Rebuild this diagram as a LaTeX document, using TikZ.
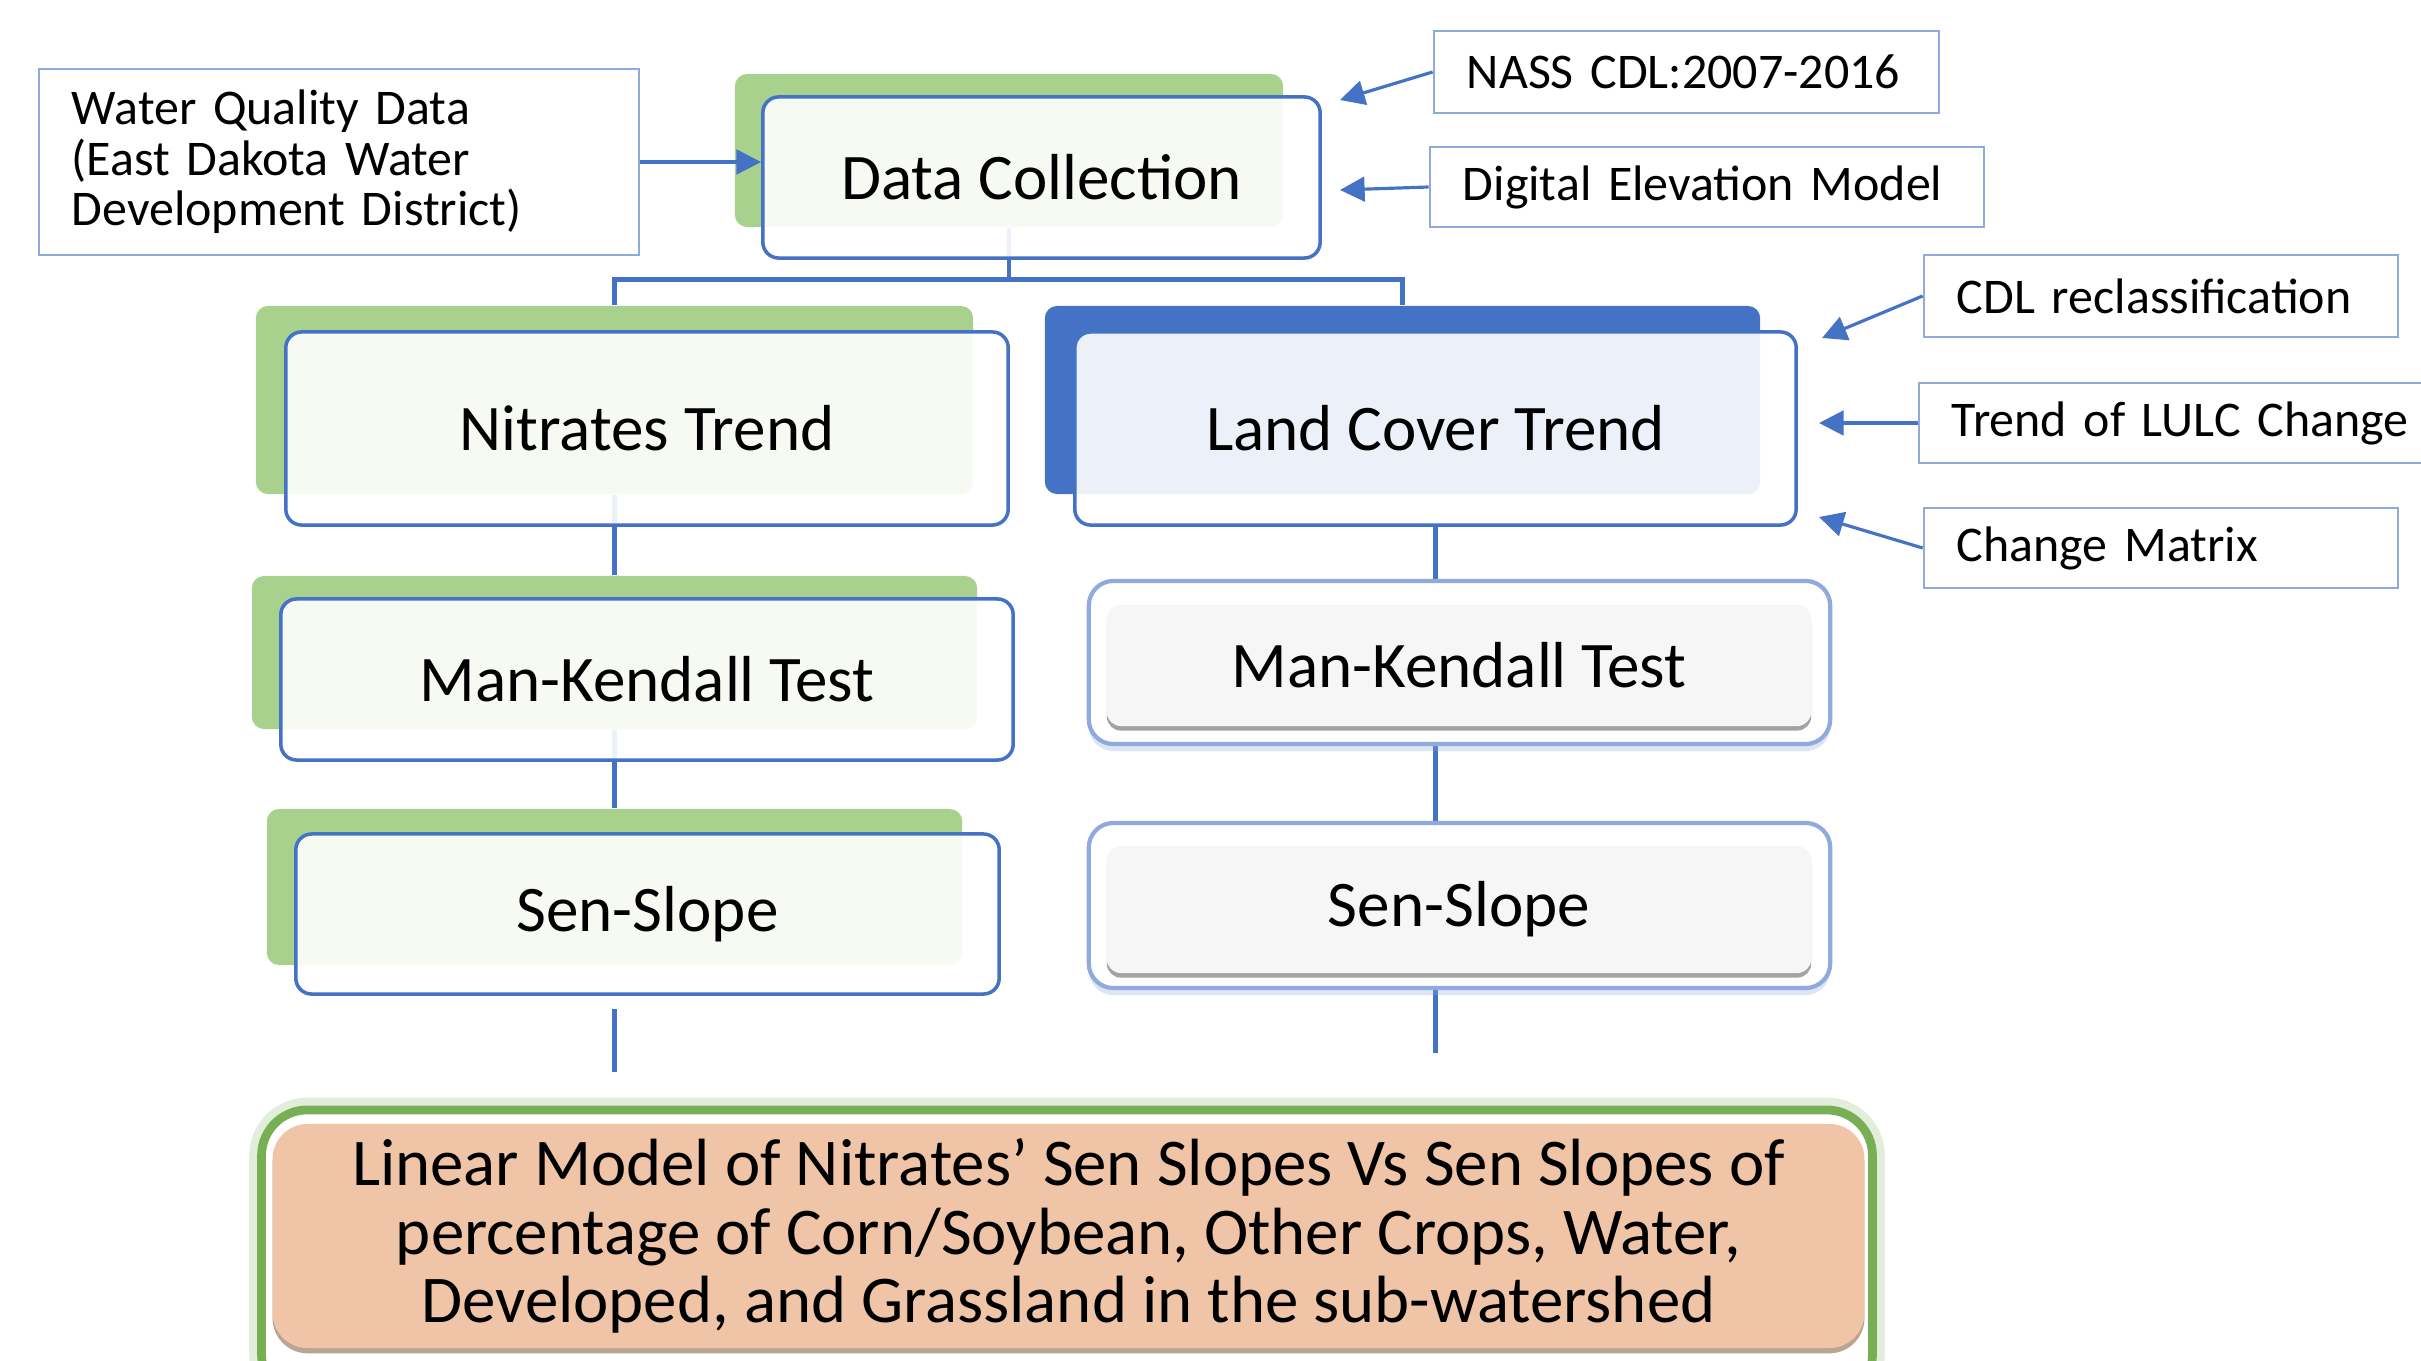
\documentclass[tikz,border=0pt]{standalone}
\usepackage{fontspec}
\setmainfont{Carlito}
\usetikzlibrary{arrows.meta,positioning,calc,shadows,backgrounds}
\definecolor{flowgreen}{RGB}{169,209,142}
\definecolor{flowblue}{RGB}{68,114,196}
\definecolor{flowedge}{RGB}{143,170,220}
\definecolor{flowgrey}{RGB}{246,246,246}
\definecolor{flowpeach}{RGB}{240,196,166}
\definecolor{flowglow}{RGB}{120,175,85}

\begin{document}
\begin{tikzpicture}[x=0.01cm, y=-0.01cm,
    plate/.style={rectangle, rounded corners=3.5pt, inner sep=0pt},
    stepbox/.style={rectangle, draw=flowblue, rounded corners=4.5pt, line width=1pt,
                fill=white, fill opacity=0.9, text opacity=1, inner sep=0pt,
                font=\fontsize{18.5}{22}\selectfont},
    bevelframe/.style={rectangle, draw=flowedge, line width=1.2pt, rounded corners=7pt,
                fill=white, inner sep=0pt,
                drop shadow={shadow xshift=0pt, shadow yshift=-2pt, fill=flowblue!60, opacity=0.3}},
    bevelbox/.style={rectangle, rounded corners=4pt, fill=flowgrey, inner sep=0pt,
                drop shadow={shadow xshift=0pt, shadow yshift=-1.3pt, fill=black!60, opacity=0.6},
                font=\fontsize{18.5}{22}\selectfont},
    sidebox/.style={rectangle, draw=flowedge, line width=0.7pt, inner xsep=0.33cm,
                inner ysep=0pt, align=left, font=\fontsize{14.2}{14.4}\selectfont},
    link/.style={draw=flowblue, line width=1.4pt},
    arr/.style={-{Triangle[length=7pt, width=7pt]}, draw=flowblue, line width=0.9pt},
  ]
  \useasboundingbox (0,0) rectangle (2421,1361);

  % Eingangsdaten links
  \node[sidebox, text width=5.34cm, minimum height=1.86cm] (wq) at (339,162)
    {Water Quality Data\\(East Dakota Water\\Development District)};

  % Data Collection
  \node[plate, fill=flowgreen, minimum width=5.48cm, minimum height=1.53cm] (dcback) at (1009,150.5) {};
  \node[stepbox, minimum width=5.57cm, minimum height=1.61cm] (dc) at (1041.5,177.5) {Data Collection};

  % Nitrates Trend
  \node[plate, fill=flowgreen, minimum width=7.17cm, minimum height=1.88cm] (ntback) at (614.5,400) {};
  \node[stepbox, minimum width=7.22cm, minimum height=1.93cm] (nt) at (647,428.5) {Nitrates Trend};

  % Land Cover Trend
  \node[plate, fill=flowblue, minimum width=7.15cm, minimum height=1.88cm] (lcback) at (1402.5,400) {};
  \node[stepbox, minimum width=7.21cm, minimum height=1.93cm] (lc) at (1435.5,428.5) {Land Cover Trend};

  % Man-Kendall links
  \node[plate, fill=flowgreen, minimum width=7.25cm, minimum height=1.53cm] (mkback) at (614.5,652.5) {};
  \node[stepbox, minimum width=7.32cm, minimum height=1.61cm] (mk) at (647,679.5) {Man-Kendall Test};

  % Sen-Slope links
  \node[plate, fill=flowgreen, minimum width=6.95cm, minimum height=1.56cm] (ssback) at (614.5,887) {};
  \node[stepbox, minimum width=7.03cm, minimum height=1.60cm] (ss) at (647.5,914) {Sen-Slope};

  % Man-Kendall rechts
  \node[bevelframe, minimum width=7.41cm, minimum height=1.63cm] (mkRframe) at (1459.5,662.5) {};
  \node[bevelbox, minimum width=7.04cm, minimum height=1.21cm] (mkR) at (1459,665.5) {Man-Kendall Test};

  % Sen-Slope rechts
  \node[bevelframe, minimum width=7.41cm, minimum height=1.65cm] (ssRframe) at (1459.5,905.5) {};
  \node[bevelbox, minimum width=7.04cm, minimum height=1.27cm] (ssR) at (1459,909.5) {Sen-Slope};

  % Lineares Modell
  \node[rectangle, fill=white, draw=flowglow, line width=2.5pt, rounded corners=13pt,
        preaction={draw=flowglow!70, line width=7pt, draw opacity=0.3},
        minimum width=16.1cm, minimum height=2.9cm] (linframe) at (1067,1255) {};
  \node[rectangle, fill=flowpeach, rounded corners=10pt, inner sep=0pt,
        drop shadow={shadow xshift=0pt, shadow yshift=-1.5pt, fill=brown!60!black, opacity=0.5},
        minimum width=15.91cm, minimum height=2.24cm, align=center,
        font=\fontsize{19}{19.4}\selectfont] (lin) at (1068.5,1236)
    {Linear Model of Nitrates’ Sen Slopes Vs Sen Slopes of\\
     percentage of Corn/Soybean, Other Crops, Water,\\
     Developed, and Grassland in the sub-watershed};

  % Quellen rechts
  \node[sidebox, text width=4.39cm, minimum height=0.82cm] (nass) at (1686.5,72) {NASS CDL:2007-2016};
  \node[sidebox, text width=4.88cm, minimum height=0.80cm] (dem) at (1707,187) {Digital Elevation Model};
  \node[sidebox, text width=4.08cm, minimum height=0.82cm] (cdl) at (2161,296) {CDL reclassification};
  \node[sidebox, text width=4.94cm, minimum height=0.80cm] (lulc) at (2199,423) {Trend of LULC Change};
  \node[sidebox, text width=4.08cm, minimum height=0.80cm] (cm) at (2161,548) {Change Matrix};

  % Verbindungen
  \coordinate (split) at ($(dcback.south)+(0,52)$);
  \begin{scope}[on background layer]
    \draw[link] (dcback.south) -- (split);
    \draw[link] (ntback.north) |- (split) -| (lcback.north);
    \draw[link] (ntback.south) -- (mkback.north);
    \draw[link] (mkback.south) -- (ssback.north);
    \draw[link, shorten <=0.13cm, shorten >=0.34cm] (ssback.south |- ss.south) -- (ssback.south |- linframe.north);
    \draw[link] (lc.south) -- (lc.south |- mkRframe.north);
    \draw[link] (lc.south |- mkRframe.south) -- (lc.south |- ssRframe.north);
    \draw[link, shorten >=0.52cm] (lc.south |- ssRframe.south) -- (lc.south |- linframe.north);
  \end{scope}

  % Pfeile
  \coordinate (nasstip) at (1340,100);
  \coordinate (demtip) at (1340,190);
  \coordinate (cdltip) at (1822,338);
  \coordinate (lulctip) at (1819,423);
  \coordinate (cmtip) at (1819,517);
  \draw[arr] (wq.east) -- (wq.east -| dc.west);
  \draw[arr] (nass.west) -- (nasstip);
  \draw[arr] (dem.west) -- (demtip);
  \draw[arr] (cdl.west) -- (cdltip);
  \draw[arr] (lulc.west) -- (lulctip);
  \draw[arr] (cm.west) -- (cmtip);
\end{tikzpicture}
\end{document}
